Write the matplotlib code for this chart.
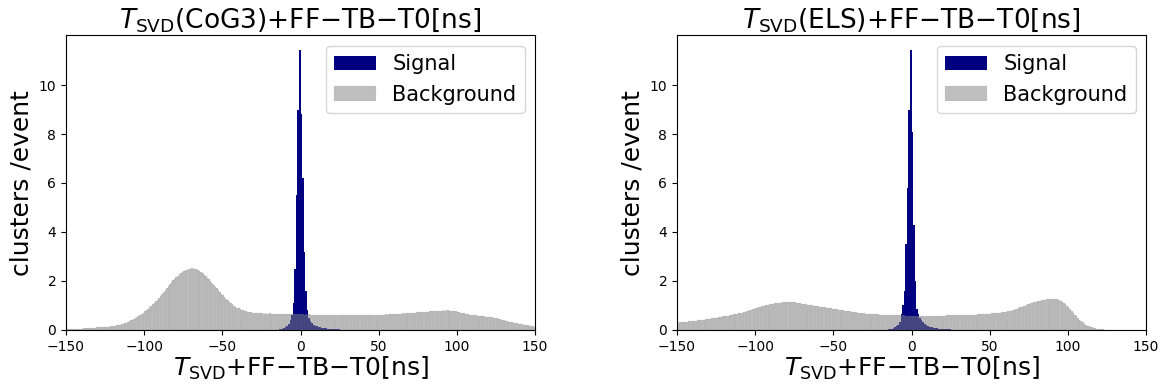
import numpy as np
import matplotlib
matplotlib.use("Agg")
import matplotlib.pyplot as plt

# 1 ns bins from -150 to 150
bin_edges = np.arange(-150, 151, 1)
bin_centers = bin_edges[:-1] + 0.5

# background, CoG3 (clusters/event per bin)
bkg_cog3 = [
    0.03, 0.03, 0.04, 0.03, 0.04, 0.04, 0.05, 0.04, 0.05, 0.05,
    0.05, 0.06, 0.06, 0.07, 0.06, 0.07, 0.08, 0.08, 0.09, 0.10,
    0.10, 0.11, 0.11, 0.12, 0.12, 0.13, 0.14, 0.14, 0.15, 0.16,
    0.17, 0.18, 0.19, 0.21, 0.22, 0.24, 0.26, 0.28, 0.30, 0.33,
    0.36, 0.39, 0.42, 0.46, 0.50, 0.54, 0.58, 0.63, 0.67, 0.71,
    0.76, 0.81, 0.86, 0.92, 0.98, 1.04, 1.10, 1.17, 1.24, 1.31,
    1.38, 1.46, 1.54, 1.62, 1.72, 1.80, 1.88, 1.95, 2.03, 2.10,
    2.16, 2.22, 2.28, 2.33, 2.38, 2.40, 2.44, 2.46, 2.48, 2.50,
    2.52, 2.49, 2.50, 2.47, 2.44, 2.40, 2.36, 2.31, 2.26, 2.20,
    2.13, 2.06, 1.99, 1.92, 1.84, 1.77, 1.70, 1.62, 1.55, 1.48,
    1.41, 1.35, 1.28, 1.21, 1.15, 1.09, 1.04, 0.99, 0.95, 0.91,
    0.88, 0.85, 0.82, 0.80, 0.78, 0.76, 0.74, 0.73, 0.72, 0.71,
    0.70, 0.69, 0.69, 0.68, 0.69, 0.68, 0.67, 0.68, 0.67, 0.67,
    0.68, 0.66, 0.67, 0.66, 0.67, 0.65, 0.66, 0.66, 0.65, 0.66,
    0.65, 0.66, 0.64, 0.65, 0.66, 0.64, 0.65, 0.65, 0.64, 0.65,
    0.64, 0.65, 0.63, 0.64, 0.63, 0.64, 0.62, 0.63, 0.63, 0.62,
    0.62, 0.63, 0.61, 0.62, 0.62, 0.61, 0.62, 0.61, 0.60, 0.61,
    0.61, 0.60, 0.61, 0.60, 0.60, 0.61, 0.59, 0.60, 0.60, 0.59,
    0.60, 0.59, 0.60, 0.59, 0.60, 0.59, 0.60, 0.60, 0.59, 0.60,
    0.60, 0.61, 0.60, 0.61, 0.61, 0.62, 0.61, 0.62, 0.62, 0.62,
    0.63, 0.62, 0.63, 0.63, 0.64, 0.63, 0.64, 0.65, 0.64, 0.65,
    0.65, 0.66, 0.66, 0.67, 0.67, 0.68, 0.67, 0.68, 0.69, 0.69,
    0.69, 0.70, 0.71, 0.70, 0.72, 0.72, 0.73, 0.73, 0.74, 0.74,
    0.75, 0.75, 0.76, 0.77, 0.76, 0.77, 0.78, 0.78, 0.79, 0.78,
    0.79, 0.80, 0.79, 0.80, 0.80, 0.79, 0.79, 0.78, 0.77, 0.76,
    0.75, 0.73, 0.71, 0.69, 0.68, 0.66, 0.65, 0.64, 0.62, 0.61,
    0.60, 0.60, 0.59, 0.58, 0.57, 0.57, 0.56, 0.55, 0.54, 0.54,
    0.53, 0.52, 0.51, 0.50, 0.49, 0.47, 0.46, 0.44, 0.42, 0.40,
    0.39, 0.37, 0.35, 0.34, 0.32, 0.31, 0.29, 0.28, 0.27, 0.26,
    0.24, 0.23, 0.22, 0.21, 0.20, 0.19, 0.17, 0.16, 0.15, 0.13,
]

# background, ELS
bkg_els = [
    0.30, 0.31, 0.31, 0.32, 0.33, 0.33, 0.34, 0.35, 0.35, 0.36,
    0.37, 0.37, 0.38, 0.39, 0.40, 0.40, 0.41, 0.42, 0.43, 0.44,
    0.45, 0.46, 0.47, 0.48, 0.49, 0.50, 0.51, 0.52, 0.53, 0.55,
    0.56, 0.57, 0.58, 0.60, 0.61, 0.62, 0.64, 0.65, 0.66, 0.68,
    0.69, 0.71, 0.72, 0.74, 0.76, 0.78, 0.80, 0.82, 0.84, 0.86,
    0.88, 0.90, 0.92, 0.94, 0.96, 0.98, 1.00, 1.01, 1.03, 1.04,
    1.06, 1.07, 1.08, 1.09, 1.10, 1.11, 1.12, 1.13, 1.13, 1.14,
    1.15, 1.14, 1.16, 1.15, 1.14, 1.13, 1.12, 1.10, 1.09, 1.07,
    1.06, 1.05, 1.04, 1.03, 1.02, 1.01, 1.00, 0.99, 0.98, 0.97,
    0.96, 0.95, 0.94, 0.93, 0.92, 0.91, 0.90, 0.89, 0.88, 0.87,
    0.86, 0.85, 0.84, 0.83, 0.82, 0.81, 0.80, 0.79, 0.78, 0.77,
    0.76, 0.75, 0.74, 0.73, 0.72, 0.71, 0.70, 0.69, 0.69, 0.68,
    0.67, 0.67, 0.66, 0.66, 0.65, 0.65, 0.64, 0.64, 0.64, 0.63,
    0.63, 0.63, 0.62, 0.62, 0.62, 0.61, 0.61, 0.61, 0.60, 0.60,
    0.60, 0.60, 0.59, 0.59, 0.59, 0.59, 0.58, 0.58, 0.58, 0.58,
    0.58, 0.57, 0.57, 0.58, 0.57, 0.57, 0.57, 0.56, 0.57, 0.57,
    0.57, 0.56, 0.57, 0.57, 0.56, 0.57, 0.57, 0.57, 0.58, 0.57,
    0.58, 0.58, 0.59, 0.59, 0.60, 0.60, 0.61, 0.61, 0.62, 0.62,
    0.62, 0.63, 0.63, 0.62, 0.63, 0.62, 0.63, 0.63, 0.62, 0.63,
    0.63, 0.63, 0.64, 0.64, 0.64, 0.65, 0.65, 0.66, 0.66, 0.67,
    0.67, 0.68, 0.68, 0.69, 0.70, 0.70, 0.71, 0.72, 0.73, 0.74,
    0.75, 0.76, 0.78, 0.79, 0.81, 0.83, 0.85, 0.87, 0.89, 0.92,
    0.94, 0.97, 0.99, 1.02, 1.04, 1.07, 1.09, 1.11, 1.13, 1.15,
    1.17, 1.18, 1.20, 1.21, 1.23, 1.24, 1.25, 1.26, 1.27, 1.27,
    1.28, 1.27, 1.27, 1.25, 1.23, 1.20, 1.16, 1.11, 1.05, 0.99,
    0.92, 0.85, 0.77, 0.70, 0.62, 0.55, 0.48, 0.42, 0.36, 0.31,
    0.26, 0.22, 0.18, 0.15, 0.12, 0.10, 0.08, 0.06, 0.05, 0.04,
    0.03, 0.02, 0.02, 0.01, 0.01, 0.01, 0.00, 0.00, 0.00, 0.00,
    0.00, 0.00, 0.00, 0.00, 0.00, 0.00, 0.00, 0.00, 0.00, 0.00,
    0.00, 0.00, 0.00, 0.00, 0.00, 0.00, 0.00, 0.00, 0.00, 0.00,
]

# signal, only bins -15 .. 29 are non-empty
sig_first_bin = -15
sig_cog3 = [
    0.01, 0.02, 0.03, 0.05, 0.08, 0.12, 0.18, 0.26, 0.40, 0.60,
    1.10, 2.50, 5.50, 9.00, 11.45, 8.80, 6.20, 3.20, 1.60, 0.80,
    0.50, 0.38, 0.28, 0.22, 0.18, 0.15, 0.12, 0.10, 0.09, 0.08,
    0.07, 0.06, 0.05, 0.05, 0.04, 0.04, 0.03, 0.03, 0.02, 0.02,
    0.01, 0.01, 0.01, 0.00, 0.00,
]
sig_els = [
    0.02, 0.03, 0.05, 0.07, 0.10, 0.15, 0.22, 0.32, 0.65, 1.00,
    1.60, 3.50, 5.80, 9.00, 11.45, 8.10, 4.30, 2.00, 0.85, 0.65,
    0.50, 0.40, 0.32, 0.26, 0.21, 0.17, 0.14, 0.12, 0.10, 0.08,
    0.07, 0.06, 0.05, 0.04, 0.04, 0.03, 0.03, 0.02, 0.02, 0.02,
    0.01, 0.01, 0.01, 0.00, 0.00,
]

titles = [r"$T_{\rm SVD}$(CoG3)+FF$-$TB$-$T0[ns]",
          r"$T_{\rm SVD}$(ELS)+FF$-$TB$-$T0[ns]"]
xlabel = r"$T_{\rm SVD}$+FF$-$TB$-$T0[ns]"
ylabel = "clusters /event"


def full_signal(sig):
    out = np.zeros(len(bin_centers))
    start = sig_first_bin + 150
    out[start:start + len(sig)] = sig
    return out


fig = plt.figure(figsize=(11.66, 3.9), dpi=100)
ax1 = fig.add_axes([0.0566, 0.154, 0.4023, 0.755])
ax2 = fig.add_axes([0.5806, 0.154, 0.4023, 0.755])

for ax, sig, bkg, title in [(ax1, sig_cog3, bkg_cog3, titles[0]),
                            (ax2, sig_els, bkg_els, titles[1])]:
    ax.hist(bin_centers, bins=bin_edges, weights=full_signal(sig),
            color="navy", label="Signal")
    ax.hist(bin_centers, bins=bin_edges, weights=bkg,
            color="grey", alpha=0.5, edgecolor="grey", linewidth=0.1,
            label="Background")
    ax.set_xlim(-150, 150)
    ax.set_xticks([-150, -100, -50, 0, 50, 100, 150])
    ax.set_yticks([0, 2, 4, 6, 8, 10])
    ax.tick_params(labelsize=10)
    ax.set_title(title, fontsize=19)
    ax.set_xlabel(xlabel, fontsize=18, labelpad=1)
    ax.set_ylabel(ylabel, fontsize=18)
    ax.legend(loc="upper right", fontsize=15)

plt.savefig("out.png", dpi=100)
